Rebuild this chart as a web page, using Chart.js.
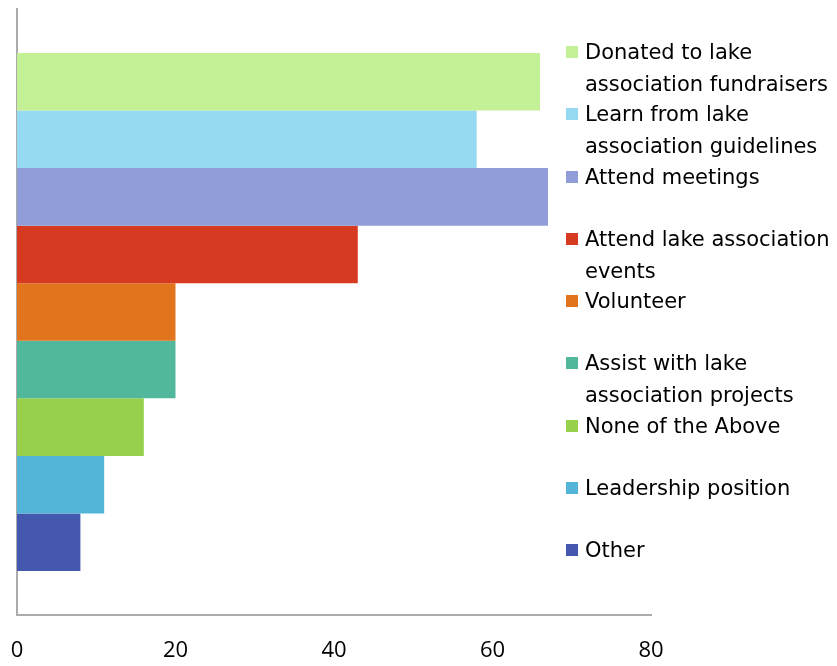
<!DOCTYPE html>
<html>
<head>
<meta charset="utf-8">
<script src="https://cdn.jsdelivr.net/npm/chart.js@4"></script>
<style>
  body { margin: 0; background: #fff; }
  #wrap { position: relative; width: 837px; height: 666px; }
  #legend { position: absolute; left: 566px; top: 36px; font-family: "DejaVu Sans", sans-serif; font-size: 21px; color: #000; }
  .item { position: relative; height: 62.25px; }
  .box { position: absolute; left: 0; top: 10px; width: 12px; height: 12px; }
  .txt { position: absolute; left: 19px; top: 0; line-height: 32px; white-space: pre; }
</style>
</head>
<body>
<div id="wrap">
  <canvas id="myChart" width="837" height="666"></canvas>
  <div id="legend"></div>
</div>
<script>
// survey answers, top to bottom
var categories = [
    'Donated to lake\nassociation fundraisers',
    'Learn from lake\nassociation guidelines',
    'Attend meetings',
    'Attend lake association\nevents',
    'Volunteer',
    'Assist with lake\nassociation projects',
    'None of the Above',
    'Leadership position',
    'Other'
];
var values = [66, 58, 67, 43, 20, 20, 16, 11, 8];
var colors = ['#c4f096', '#96d9f3', '#919dd8', '#d63a20', '#e3741e', '#51b89c', '#97d04b', '#52b5d8', '#4558b0'];
var xTicks = [0, 20, 40, 60, 80];

var datasets = categories.map(function (c, i) {
    return {
        label: c,
        data: [values[i]],
        backgroundColor: colors[i],
        borderWidth: 0
    };
});

var chart = new Chart(document.getElementById('myChart'), {
    type: 'bar',
    data: {
        labels: [''],
        datasets: datasets
    },
    options: {
        indexAxis: 'y',
        responsive: false,
        animation: false,
        categoryPercentage: 0.855,
        barPercentage: 1,
        layout: {
            padding: { left: 17, right: 186, top: 9, bottom: 3 }
        },
        plugins: {
            legend: { display: false },
            tooltip: { enabled: false }
        },
        scales: {
            x: {
                min: 0,
                max: 80,
                afterBuildTicks: function (axis) {
                    axis.ticks = xTicks.map(function (v) { return { value: v }; });
                },
                afterFit: function (axis) {
                    // keep the plot edges fixed
                    axis.height = 48;
                    axis.paddingLeft = 0;
                    axis.paddingRight = 0;
                },
                grid: { display: false },
                border: { display: true, color: '#ababab', width: 2 },
                ticks: {
                    color: '#000',
                    padding: 15,
                    maxRotation: 0,
                    font: { family: 'Open Sans', size: 22 }
                }
            },
            y: {
                z: 1,
                afterFit: function (axis) {
                    axis.width = 0;
                },
                grid: { display: false },
                border: { display: true, color: '#ababab', width: 2 },
                ticks: { display: false }
            }
        }
    }
});

// legend on the right, one slot per answer
var legend = document.getElementById('legend');
categories.forEach(function (c, i) {
    var item = document.createElement('div');
    item.className = 'item';
    item.innerHTML = '<div class="box" style="background:' + colors[i] + '"></div><div class="txt"></div>';
    item.querySelector('.txt').textContent = c;
    legend.appendChild(item);
});
</script>
</body>
</html>
